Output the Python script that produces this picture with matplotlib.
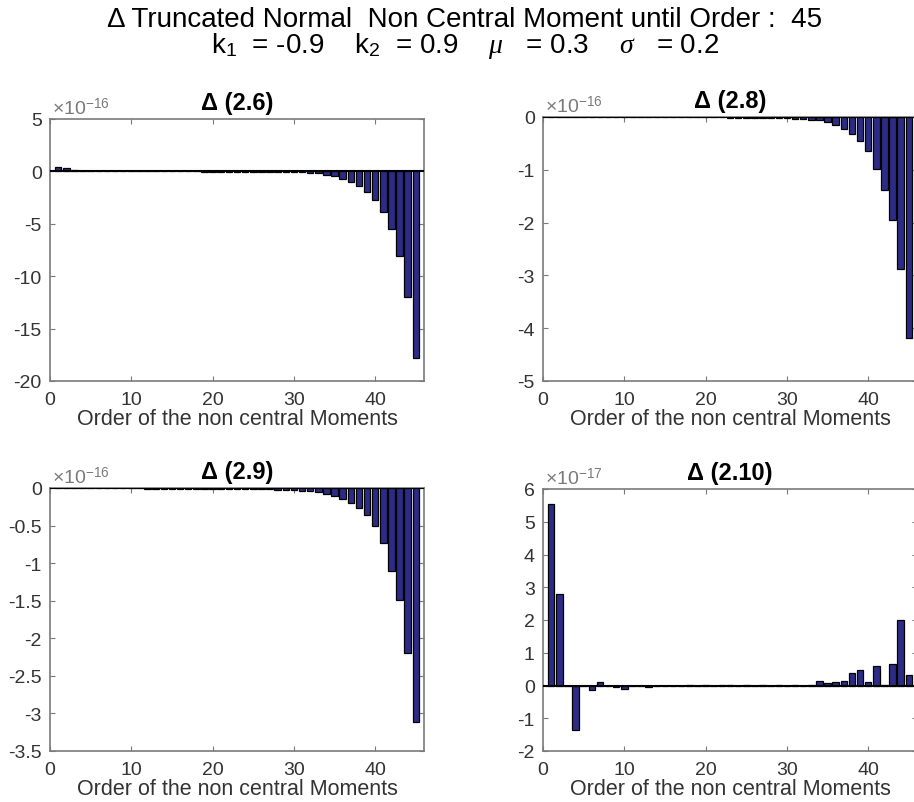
import matplotlib
matplotlib.use("Agg")
import matplotlib.pyplot as plt
import numpy as np

plt.rcParams["font.family"] = ["Liberation Sans", "DejaVu Sans"]
plt.rcParams["axes.unicode_minus"] = False
plt.rcParams["mathtext.fontset"] = "custom"
plt.rcParams["mathtext.rm"] = "Liberation Sans"
plt.rcParams["mathtext.it"] = "Liberation Serif:italic"

# Data (mantissas, order 1..45)
orders = np.arange(1, 46)

titles = ["\u0394 (2.6)", "\u0394 (2.8)", "\u0394 (2.9)", "\u0394 (2.10)"]
exponents = [-16, -16, -16, -17]

d_26 = [0.45, 0.30, 0.12, 0.04, 0.01, 0.0, -0.002, -0.003, -0.003, -0.004,
        -0.004, -0.005, -0.005, -0.006, -0.006, -0.007, -0.008, -0.009, -0.010, -0.011,
        -0.012, -0.014, -0.016, -0.018, -0.020, -0.025, -0.030, -0.040, -0.050, -0.070,
        -0.09, -0.13, -0.20, -0.31, -0.47, -0.70, -1.00, -1.42, -1.96, -2.75,
        -3.86, -5.50, -8.10, -12.0, -17.8]
d_28 = [0.0, 0.0, 0.0, 0.0, 0.0, -0.002, -0.002, -0.003, -0.003, -0.003,
        -0.004, -0.004, -0.004, -0.005, -0.005, -0.006, -0.006, -0.007, -0.007, -0.008,
        -0.008, -0.009, -0.010, -0.011, -0.012, -0.013, -0.015, -0.018, -0.022, -0.027,
        -0.033, -0.042, -0.055, -0.065, -0.095, -0.16, -0.22, -0.32, -0.45, -0.65,
        -0.98, -1.39, -1.96, -2.88, -4.19]
d_29 = [0.0, 0.0, 0.0, 0.0, 0.0, -0.004, -0.005, -0.005, -0.006, -0.006,
        -0.006, -0.007, -0.007, -0.007, -0.008, -0.008, -0.008, -0.009, -0.009, -0.010,
        -0.010, -0.011, -0.012, -0.013, -0.014, -0.015, -0.017, -0.020, -0.024, -0.030,
        -0.035, -0.045, -0.055, -0.075, -0.11, -0.15, -0.20, -0.27, -0.36, -0.51,
        -0.73, -1.11, -1.49, -2.19, -3.11]
d_210 = [5.54, 2.80, 0.0, -1.37, 0.0, -0.15, 0.10, 0.0, -0.06, -0.10,
         -0.03, 0.0, -0.05, -0.01, -0.02, -0.01, 0.0, 0.01, 0.0, 0.01,
         0.0, 0.02, 0.01, 0.0, 0.01, 0.0, 0.01, 0.0, 0.02, 0.0,
         0.01, 0.0, 0.01, 0.15, 0.07, 0.12, 0.15, 0.38, 0.48, 0.10,
         0.60, 0.02, 0.66, 2.00, 0.32]
data = [d_26, d_28, d_29, d_210]

ylims = [(-20, 5), (-5, 0), (-3.5, 0), (-2, 6)]
yticks = [np.arange(-20, 6, 5), np.arange(-5, 1, 1),
          np.arange(-3.5, 0.01, 0.5), np.arange(-2, 7, 1)]
xticks = [0, 10, 20, 30, 40]

W, H = 914, 803
fig = plt.figure(figsize=(W / 100, H / 100), dpi=100)

# axes boxes in pixels: left, top, width, height
boxes = [(50, 120, 374, 262), (543, 118, 374, 264),
         (50, 489, 374, 263), (543, 490, 374, 262)]

bar_color = "#2c2c86"
grey = "#7a7a7a"
txt = "#333333"

for i in range(4):
    l, t, w, h = boxes[i]
    ax = fig.add_axes([l / W, 1 - (t + h) / H, w / W, h / H])
    ax.bar(orders, data[i], width=0.8, color=bar_color, edgecolor="black",
           linewidth=0.9, zorder=2)
    ax.axhline(0, color="black", linewidth=1.5, zorder=3)
    ax.set_xlim(0, 46)
    ax.set_ylim(*ylims[i])
    ax.set_xticks(xticks)
    ax.set_yticks(yticks[i])
    ax.set_yticklabels(["%g" % v for v in yticks[i]])
    ax.tick_params(direction="in", length=3.5, width=0.8, colors=grey,
                   labelcolor=txt, labelsize=14, top=True, right=True)
    ax.tick_params(axis="x", pad=7)
    ax.tick_params(axis="y", pad=6)
    for s in ax.spines.values():
        s.set_color(grey)
        s.set_linewidth(1.2)
    ax.set_xlabel("Order of the non central Moments", fontsize=15.5,
                  color=txt, labelpad=0)
    ax.set_title(titles[i], fontsize=17, fontweight="bold", pad=7)
    ax.text(0.005, 1.005, r"$\times$10$^{%d}$" % exponents[i],
            transform=ax.transAxes, fontsize=14, color=grey,
            ha="left", va="bottom")

fig.text(465 / W, 1 - 20 / H,
         "\u0394 Truncated Normal  Non Central Moment until Order :  45",
         fontsize=20, ha="center", va="center")
fig.text(465 / W, 1 - 46 / H,
         r"k$_1$  = -0.9    k$_2$  = 0.9    $\mu$   = 0.3    $\sigma$   = 0.2",
         fontsize=20, ha="center", va="center")

fig.savefig("out.png", dpi=100)
